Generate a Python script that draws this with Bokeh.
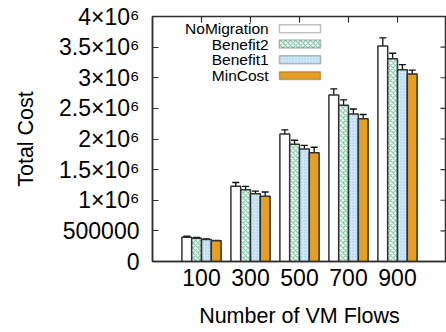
import math
from bokeh.plotting import figure
from bokeh.models import (Range1d, FixedTicker, Whisker, TeeHead,
                          ColumnDataSource, BoxAnnotation, Label)
from bokeh.embed import file_html
from bokeh.resources import INLINE

# ---- data ----
flows = ["100", "300", "500", "700", "900"]
series = ["NoMigration", "Benefit2", "Benefit1", "MinCost"]
no_migration = [0.397e6, 1.23e6, 2.08e6, 2.72e6, 3.52e6]
benefit2 = [0.380e6, 1.17e6, 1.915e6, 2.55e6, 3.31e6]
benefit1 = [0.360e6, 1.105e6, 1.835e6, 2.41e6, 3.13e6]
min_cost = [0.338e6, 1.065e6, 1.775e6, 2.33e6, 3.06e6]
err_no_migration = [0.015e6, 0.06e6, 0.07e6, 0.10e6, 0.13e6]
err_benefit2 = [0.012e6, 0.055e6, 0.065e6, 0.09e6, 0.09e6]
err_benefit1 = [0.010e6, 0.045e6, 0.06e6, 0.08e6, 0.085e6]
err_min_cost = [0.008e6, 0.07e6, 0.09e6, 0.07e6, 0.065e6]
ytick_values = [0, 500000, 1000000, 1500000, 2000000, 2500000, 3000000, 3500000, 4000000]
ytick_labels = ["0", "500000", "1×10⁶", "1.5×10⁶", "2×10⁶", "2.5×10⁶", "3×10⁶", "3.5×10⁶", "4×10⁶"]

values = [no_migration, benefit2, benefit1, min_cost]
errors = [err_no_migration, err_benefit2, err_benefit1, err_min_cost]

FONT = "Liberation Sans"
EDGE = "#303030"
X_START, X_END = -1, 5
Y_START, Y_END = 0, 4e6
styles = [
    dict(fill_color="white"),
    dict(fill_color="white", hatch_pattern="diagonal_cross", hatch_color="#86d0b0",
         hatch_scale=5, hatch_weight=1.3),
    dict(fill_color="#cfe7f8", hatch_pattern="dot", hatch_color="#9ccbe9",
         hatch_scale=3, hatch_weight=0.8),
    dict(fill_color="#e69f25"),
]

p = figure(width=446, height=332, output_backend="svg", toolbar_location=None,
           x_range=Range1d(X_START, X_END), y_range=Range1d(Y_START, Y_END),
           min_border_left=152, min_border_right=0, min_border_top=16,
           min_border_bottom=71, background_fill_color="white",
           border_fill_color="white")
p.grid.visible = False
p.outline_line_color = EDGE
p.outline_line_width = 1.5

bar_w = 0.2
offsets = [-0.3, -0.1, 0.1, 0.3]
for k in range(4):
    xs = [i + offsets[k] for i in range(len(flows))]
    src = ColumnDataSource(dict(x=xs, top=values[k],
                                lo=[v - e for v, e in zip(values[k], errors[k])],
                                hi=[v + e for v, e in zip(values[k], errors[k])]))
    p.vbar(x="x", top="top", bottom=0, width=bar_w, source=src,
           line_color=EDGE, line_width=1.5, **styles[k])
    w = Whisker(base="x", lower="lo", upper="hi", source=src, dimension="height",
                line_color="#111111", line_width=1.3,
                upper_head=TeeHead(size=7, line_color="#111111", line_width=1.3),
                lower_head=TeeHead(size=7, line_color="#111111", line_width=1.3))
    p.add_layout(w)

# axes
xticks = list(range(len(flows)))
p.xaxis.ticker = FixedTicker(ticks=xticks)
p.xaxis.major_label_overrides = {i: f for i, f in enumerate(flows)}
p.yaxis.ticker = FixedTicker(ticks=ytick_values)
p.yaxis.major_label_overrides = {v: l for v, l in zip(ytick_values, ytick_labels)}
for ax in [p.xaxis[0], p.yaxis[0]]:
    ax.major_tick_in = 6
    ax.major_tick_out = 0
    ax.minor_tick_line_color = None
    ax.axis_line_color = EDGE
    ax.axis_line_width = 1.5
    ax.major_tick_line_color = EDGE
    ax.major_tick_line_width = 1.2
    ax.major_label_text_font = FONT
    ax.major_label_text_font_size = "23px"
    ax.major_label_text_color = "black"
    ax.axis_label_text_font = FONT
    ax.axis_label_text_font_size = "21.5px"
    ax.axis_label_text_font_style = "normal"
    ax.axis_label_text_color = "black"
p.xaxis.axis_label = "Number of VM Flows"
p.yaxis.axis_label = "Total Cost"
p.yaxis.major_label_standoff = 13
p.xaxis.major_label_standoff = 7
p.yaxis.axis_label_standoff = 18
p.xaxis.axis_label_standoff = 15

# mirrored ticks on top and right (gnuplot style, pointing inward)
p.ray(x=xticks, y=[Y_END] * len(xticks), length=6, length_units="screen",
      angle=-math.pi / 2, line_color=EDGE, line_width=1.2)
p.ray(x=[X_END] * len(ytick_values), y=ytick_values, length=6, length_units="screen",
      angle=math.pi, line_color=EDGE, line_width=1.2)

# legend (gnuplot style: text right-aligned, swatch on the right)
leg_text_x = 1.37
leg_sw_left, leg_sw_right = 1.59, 2.43
leg_rows = [3.80e6, 3.55e6, 3.295e6, 3.035e6]
sw_h = 0.13e6
for k, name in enumerate(series):
    yc = leg_rows[k]
    p.add_layout(Label(x=leg_text_x, y=yc, text=name, text_align="right",
                       text_baseline="middle", text_font=FONT,
                       text_font_size="15.5px", text_color="black"))
    p.add_layout(BoxAnnotation(left=leg_sw_left, right=leg_sw_right,
                               bottom=yc - sw_h / 2, top=yc + sw_h / 2,
                               line_color=EDGE, line_width=1.5, fill_alpha=1.0,
                               **styles[k]))

open("out.html", "w").write(file_html(p, INLINE))
